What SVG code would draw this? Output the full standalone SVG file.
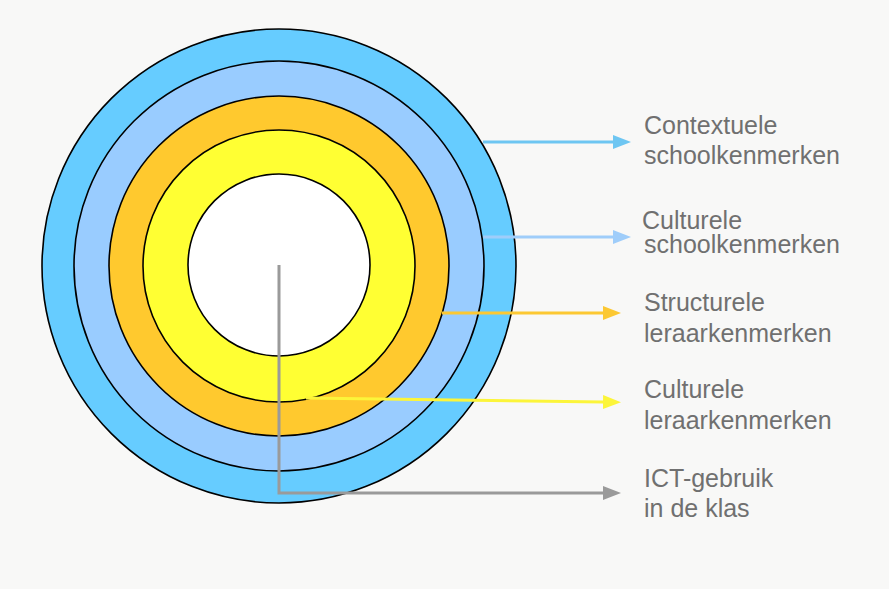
<svg xmlns="http://www.w3.org/2000/svg" width="889" height="589" viewBox="0 0 889 589">
  <style>
    .ring { stroke: #000; stroke-width: 1.6; }
    .lbl { font-family: "Liberation Sans", Arial, Helvetica, sans-serif; font-size: 25px; fill: #707070; }
    .conn { fill: none; stroke-width: 3; }
  </style>
  <defs>
    <marker id="ahBlue" markerUnits="userSpaceOnUse" markerWidth="18" markerHeight="14" refX="0" refY="7" orient="auto">
      <path d="M0,0 L18,7 L0,14 z" fill="#6ec6f2"/>
    </marker>
    <marker id="ahLight" markerUnits="userSpaceOnUse" markerWidth="18" markerHeight="14" refX="0" refY="7" orient="auto">
      <path d="M0,0 L18,7 L0,14 z" fill="#9fcdfa"/>
    </marker>
    <marker id="ahOrange" markerUnits="userSpaceOnUse" markerWidth="18" markerHeight="14" refX="0" refY="7" orient="auto">
      <path d="M0,0 L18,7 L0,14 z" fill="#fcc832"/>
    </marker>
    <marker id="ahYellow" markerUnits="userSpaceOnUse" markerWidth="18" markerHeight="14" refX="0" refY="7" orient="auto">
      <path d="M0,0 L18,7 L0,14 z" fill="#fcf53a"/>
    </marker>
    <marker id="ahGray" markerUnits="userSpaceOnUse" markerWidth="18" markerHeight="14" refX="0" refY="7" orient="auto">
      <path d="M0,0 L18,7 L0,14 z" fill="#9a9a9a"/>
    </marker>
  </defs>
  <rect width="889" height="589" fill="#f8f8f7"/>

  <g id="ring-contextuele-school">
    <circle class="ring" cx="279" cy="266" r="237" fill="#66ccff"/>
  </g>
  <g id="ring-culturele-school">
    <circle class="ring" cx="279" cy="266" r="205" fill="#99ccff"/>
  </g>
  <g id="ring-structurele-leraar">
    <circle class="ring" cx="279" cy="266" r="170" fill="#ffc92e"/>
  </g>
  <g id="ring-culturele-leraar">
    <circle class="ring" cx="279" cy="266" r="136" fill="#ffff33"/>
  </g>
  <g id="ring-ict">
    <circle class="ring" cx="279" cy="265" r="91" fill="#ffffff"/>
  </g>

  <g id="connectors">
    <line class="conn" x1="483" y1="142" x2="613" y2="142" stroke="#6ec6f2" marker-end="url(#ahBlue)"/>
    <line class="conn" x1="483" y1="237" x2="613" y2="237" stroke="#9fcdfa" marker-end="url(#ahLight)"/>
    <line class="conn" x1="442" y1="313" x2="603" y2="313" stroke="#fcc832" marker-end="url(#ahOrange)"/>
    <line class="conn" x1="306" y1="398" x2="603" y2="402" stroke="#fcf53a" marker-end="url(#ahYellow)"/>
    <path class="conn" d="M279,265 V493 H603" stroke="#9a9a9a" marker-end="url(#ahGray)"/>
  </g>

  <g id="label-contextuele-school">
    <text class="lbl" x="644" y="134">Contextuele</text>
    <text class="lbl" x="644" y="164">schoolkenmerken</text>
  </g>
  <g id="label-culturele-school">
    <text class="lbl" x="642" y="229">Culturele</text>
    <text class="lbl" x="644" y="253">schoolkenmerken</text>
  </g>
  <g id="label-structurele-leraar">
    <text class="lbl" x="644" y="311">Structurele</text>
    <text class="lbl" x="644" y="342">leraarkenmerken</text>
  </g>
  <g id="label-culturele-leraar">
    <text class="lbl" x="644" y="398">Culturele</text>
    <text class="lbl" x="644" y="429">leraarkenmerken</text>
  </g>
  <g id="label-ict">
    <text class="lbl" x="644" y="487">ICT-gebruik</text>
    <text class="lbl" x="644" y="517">in de klas</text>
  </g>
</svg>
